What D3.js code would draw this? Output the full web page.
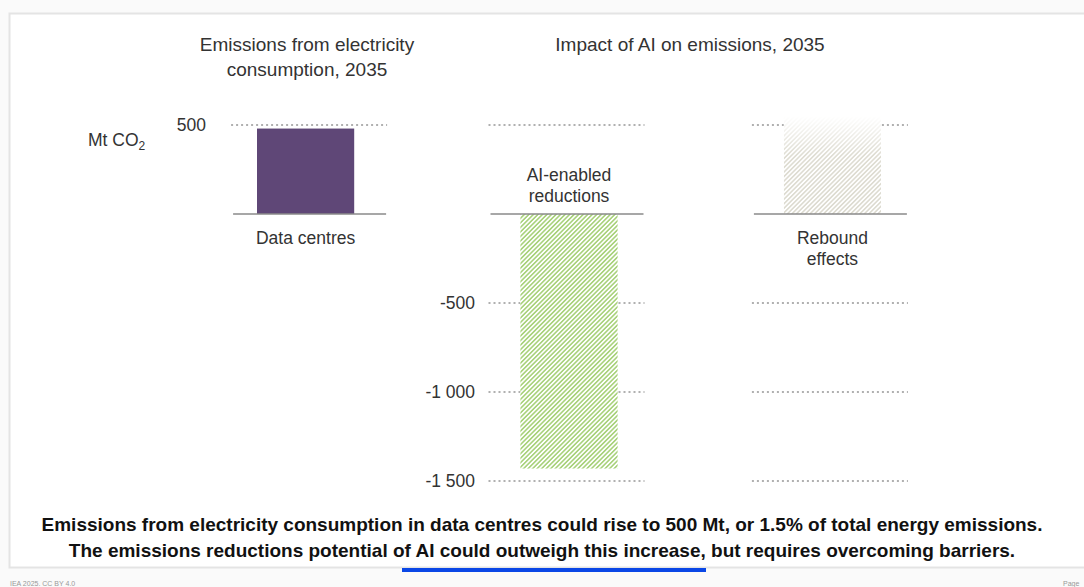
<!DOCTYPE html>
<html>
<head>
<meta charset="utf-8">
<script src="https://cdn.jsdelivr.net/npm/d3@7"></script>
<style>
  html, body { margin: 0; padding: 0; background: #fafafa; }
  svg { display: block; font-family: "Liberation Sans", Arial, sans-serif; }
</style>
</head>
<body>
<svg id="chart" width="1084" height="587"></svg>
<script>
// Emissions from data-centre electricity use vs. the AI impact on emissions, 2035 (Mt CO2)
const categories = ["Data centres", "AI-enabled reductions", "Rebound effects"];
const categoryLines = [["Data centres"], ["AI-enabled", "reductions"], ["Rebound", "effects"]];
const values = [480, -1430, 550];
const panelTitles = [["Emissions from electricity", "consumption, 2035"], ["Impact of AI on emissions, 2035"]];
const leftTicks = [500];
const rightTicks = [-500, -1000, -1500];
const tickLabels = { "500": "500", "-500": "-500", "-1000": "-1 000", "-1500": "-1 500" };
const caption = [
  "Emissions from electricity consumption in data centres could rise to 500 Mt, or 1.5% of total energy emissions.",
  "The emissions reductions potential of AI could outweigh this increase, but requires overcoming barriers."
];

const svg = d3.select("#chart");
const W = 1084;

// page frame
svg.append("rect").attr("x", 9.5).attr("y", 13.5).attr("width", W).attr("height", 554)
  .attr("fill", "#ffffff").attr("stroke", "#e4e4e4").attr("stroke-width", 2);

const y = d3.scaleLinear().domain([-1500, 500]).range([481, 125]);
const x = d3.scaleBand().domain(categories).range([257, 881]).paddingInner(0.631).paddingOuter(0);
const cx = c => x(c) + x.bandwidth() / 2;
const half = 78;

const defs = svg.append("defs");
function hatch(id, color, bg) {
  const p = defs.append("pattern").attr("id", id).attr("patternUnits", "userSpaceOnUse")
    .attr("width", 3.2).attr("height", 3.2).attr("patternTransform", "rotate(45)");
  p.append("rect").attr("width", 3.2).attr("height", 3.2).attr("fill", bg);
  p.append("rect").attr("width", 1.6).attr("height", 3.2).attr("fill", color);
}
hatch("hatchGreen", "#a9d27c", "#ffffff");
hatch("hatchGrey", "#d9d7cb", "#ffffff");
const grad = defs.append("linearGradient").attr("id", "fadeTop")
  .attr("x1", 0).attr("y1", 0).attr("x2", 0).attr("y2", 1);
grad.append("stop").attr("offset", "0").attr("stop-color", "#fff").attr("stop-opacity", 0);
grad.append("stop").attr("offset", "0.4").attr("stop-color", "#fff").attr("stop-opacity", 0.85);
grad.append("stop").attr("offset", "1").attr("stop-color", "#fff").attr("stop-opacity", 0.9);
defs.append("mask").attr("id", "fadeMask").attr("maskContentUnits", "objectBoundingBox")
  .append("rect").attr("width", 1).attr("height", 1).attr("fill", "url(#fadeTop)");

// gridlines
const gridFor = [leftTicks, [500, ...rightTicks], [500, ...rightTicks]];
const gridShift = [3.5, -2.5, -2.5];
categories.forEach((c, i) => {
  svg.append("g").selectAll("line").data(gridFor[i]).join("line")
    .attr("x1", cx(c) - half + gridShift[i]).attr("x2", cx(c) + half + gridShift[i])
    .attr("y1", d => y(d)).attr("y2", d => y(d))
    .attr("stroke", "#b0b0b0").attr("stroke-width", 2).attr("stroke-dasharray", "2,3");
});

// tick labels
svg.append("g").selectAll("text").data(leftTicks).join("text")
  .attr("x", 206).attr("y", d => y(d)).attr("dy", "0.35em")
  .attr("text-anchor", "end").attr("font-size", 17.5).attr("fill", "#333")
  .text(d => tickLabels[d]);
svg.append("g").selectAll("text").data(rightTicks).join("text")
  .attr("x", 475).attr("y", d => y(d)).attr("dy", "0.35em")
  .attr("text-anchor", "end").attr("font-size", 17.5).attr("fill", "#333")
  .text(d => tickLabels[d]);

// unit label
const unit = svg.append("text").attr("x", 88).attr("y", 146).attr("font-size", 17.5).attr("fill", "#333");
unit.append("tspan").text("Mt CO");
unit.append("tspan").attr("font-size", 12).attr("dy", 4).text("2");

// bars (opaque white underlay hides the gridlines behind each bar)
const fills = ["#5f4777", "url(#hatchGreen)", "url(#hatchGrey)"];
categories.forEach((c, i) => {
  const v = values[i];
  const bx = x(c), bw = x.bandwidth();
  const by = y(Math.max(0, v)), bh = Math.abs(y(v) - y(0));
  if (i === 2) {
    svg.append("rect").attr("x", bx).attr("width", bw).attr("y", by).attr("height", bh).attr("fill", "#fff");
  }
  const r = svg.append("rect").attr("x", bx).attr("width", bw).attr("y", by).attr("height", bh)
    .attr("fill", fills[i]);
  if (i === 2) r.attr("mask", "url(#fadeMask)");
});

// zero baselines
categories.forEach((c, i) => {
  svg.append("line").attr("x1", cx(c) - half + gridShift[i] + 2).attr("x2", cx(c) + half + gridShift[i] - 1)
    .attr("y1", y(0)).attr("y2", y(0)).attr("stroke", "#8a8a8a").attr("stroke-width", 1.5);
});

// category labels
categories.forEach((c, i) => {
  const lines = categoryLines[i];
  const neg = values[i] < 0;
  const t = svg.append("text").attr("text-anchor", "middle").attr("font-size", 17.5).attr("fill", "#333");
  lines.forEach((l, j) => {
    const yy = neg ? y(0) - 12 - (lines.length - 1 - j) * 21 : y(0) + 30 + j * 21;
    t.append("tspan").attr("x", cx(c)).attr("y", yy).text(l);
  });
});

// panel titles
const titleCenters = [307, 690];
panelTitles.forEach((lines, i) => {
  const t = svg.append("text").attr("text-anchor", "middle").attr("font-size", 19).attr("fill", "#333");
  lines.forEach((l, j) => t.append("tspan").attr("x", titleCenters[i]).attr("y", 51 + j * 25).text(l));
});

// caption
const cap = svg.append("text").attr("text-anchor", "middle").attr("font-size", 19)
  .attr("font-weight", "bold").attr("fill", "#111");
caption.forEach((l, j) => cap.append("tspan").attr("x", 542).attr("y", 531 + j * 26).text(l));

// accent bar
svg.append("rect").attr("x", 402).attr("y", 568).attr("width", 304).attr("height", 4).attr("fill", "#0a47e6");

// footer
svg.append("text").attr("x", 10).attr("y", 586).attr("font-size", 7).attr("fill", "#999").text("IEA 2025. CC BY 4.0");
svg.append("text").attr("x", 1063).attr("y", 586).attr("font-size", 7).attr("fill", "#999").text("Page");
</script>
</body>
</html>
